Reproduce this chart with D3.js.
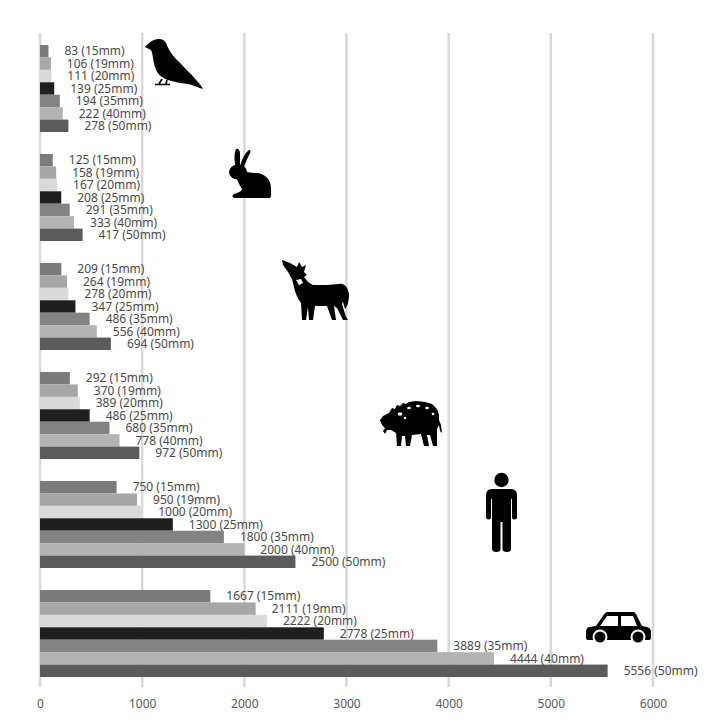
<!DOCTYPE html>
<html>
<head>
<meta charset="utf-8" />
<title></title>
<style>
html, body {
    padding: 0px;
    margin: 0px;
    width: 100%;
    height: 100%;
    background: #fff;
}
text {
    font-family: "Noto Sans", sans-serif;
}
</style>
</head>
<body>
<div id="chart"></div>
<script src="https://cdnjs.cloudflare.com/ajax/libs/d3/7.8.5/d3.min.js"></script>
<script>
// data
var groups = ["bird", "rabbit", "wolf", "boar", "person", "car"]
var lenses = ["15mm", "19mm", "20mm", "25mm", "35mm", "40mm", "50mm"]
var birdValues = [83, 106, 111, 139, 194, 222, 278]
var rabbitValues = [125, 158, 167, 208, 291, 333, 417]
var wolfValues = [209, 264, 278, 347, 486, 556, 694]
var boarValues = [292, 370, 389, 486, 680, 778, 972]
var personValues = [750, 950, 1000, 1300, 1800, 2000, 2500]
var carValues = [1667, 2111, 2222, 2778, 3889, 4444, 5556]
var xTicks = [0, 1000, 2000, 3000, 4000, 5000, 6000]

var lensColors = ["#7b7b7b", "#a7a7a7", "#dadada", "#1f1f1f", "#838383", "#b3b3b3", "#5b5b5b"]

!(function(){
    "use strict"

    var W = 722, H = 722
    var allValues = [birdValues, rabbitValues, wolfValues, boarValues, personValues, carValues]

    var svg = d3.select("#chart").append("svg")
        .attr("width", W)
        .attr("height", H)

    var x = d3.scaleLinear().domain([0, 6000]).range([40, 653])

    var yGroup = d3.scaleBand().domain(groups)
        .range([34, 688])
        .paddingInner(0.2018)
        .paddingOuter(0.1009)

    var yLens = d3.scaleBand().domain(lenses).range([0, yGroup.bandwidth()])

    //grid lines
    svg.append("g").selectAll("line")
        .data(xTicks)
        .enter().append("line")
        .attr("x1", function(d){ return x(d) })
        .attr("x2", function(d){ return x(d) })
        .attr("y1", 33)
        .attr("y2", 687)
        .attr("stroke", "#d9d9d9")
        .attr("stroke-width", 2.5)

    //axis labels
    var axis = svg.append("g")
        .attr("transform", "translate(0,696)")
        .call(d3.axisBottom(x).tickValues(xTicks).tickSize(0).tickFormat(d3.format("d")))
    axis.select(".domain").remove()
    axis.selectAll("text")
        .attr("fill", "#595959")
        .style("font-size", "12px")
        .style("font-family", "'Noto Sans', sans-serif")

    //bars
    var g = svg.selectAll(".grp")
        .data(groups)
        .enter().append("g")
        .attr("class", "grp")
        .attr("transform", function(d){ return "translate(0," + yGroup(d) + ")" })

    g.selectAll("rect")
        .data(function(d, i){ return allValues[i].map(function(v, j){ return {v: v, lens: lenses[j], c: lensColors[j]} }) })
        .enter().append("rect")
        .attr("x", x(0))
        .attr("y", function(d){ return yLens(d.lens) })
        .attr("width", function(d){ return x(d.v) - x(0) })
        .attr("height", yLens.bandwidth())
        .attr("fill", function(d){ return d.c })

    g.selectAll("text")
        .data(function(d, i){ return allValues[i].map(function(v, j){ return {v: v, lens: lenses[j]} }) })
        .enter().append("text")
        .attr("x", function(d){ return x(d.v) + 16 })
        .attr("y", function(d){ return yLens(d.lens) + yLens.bandwidth() / 2 })
        .attr("dy", "0.35em")
        .attr("fill", "#4a4a4a")
        .style("font-size", "12px")
        .text(function(d){ return d.v + " (" + d.lens + ")" })

    //icons  (placement: left edge in px, top offset from group band)
    var icons = {
        bird: {dx: 145, dy: -7, draw: function(s){
            s.append("path").attr("d",
                "M0,9 C3,6 6,3 9,2 C14,0 19,1 21,5 C23,10 26,16 32,22 C38,28 46,36 52,43 C55,46 57,49 58,51 C54,50 48,47 43,46 C36,45 29,44 23,42 C17,40 12,36 10,29 C8,23 8,16 6,12 C4,11 2,10 0,9 Z")
            s.append("path").attr("d", "M17,41 L14,46 M22,42 L21,46 M10,46.5 L25,46.5")
                .attr("stroke", "#000").attr("stroke-width", 1.6).attr("fill", "none")
        }},
        rabbit: {dx: 228, dy: -6, draw: function(s){
            s.append("path").attr("d", "M8,20 C6,13 6,5 8,1 C10,0 12,2 12,6 L12,18 Z")
            s.append("path").attr("d", "M12,18 C14,11 17,5 21,2 C23,2 23,4 21,7 C19,11 17,16 15,21 Z")
            s.append("ellipse").attr("cx", 10).attr("cy", 24).attr("rx", 9).attr("ry", 7.5)
            s.append("path").attr("d",
                "M8,28 C10,34 12,38 14,41 C13,44 9,45 6,46 C4,47 4,50 7,50 L41,50 C44,50 43,45 43,40 C43,32 37,25 28,25 C22,25 18,24 14,21 Z")
        }},
        wolf: {dx: 282, dy: -4, draw: function(s){
            s.append("path").attr("d",
                "M0,1 L8,4 L15,8 L17,3 L20,8 L24,6 L22,13 L25,16 L22,18 L26,23 L31,26 L45,26 L57,25 C62,24 66,28 67,35 C67,41 66,47 63,50 L61,43 L60,45 L64,58 L66,61 L61,61 L55,49 L52,47 L54,61 L50,61 L45,47 L33,47 L31,61 L27,61 L26,48 L24,61 L20,61 L19,44 C16,40 13,34 12,28 L10,20 L6,13 L1,6 Z")
            s.append("path").attr("d", "M14,21 L19,20 L21,24 L17,26 Z").attr("fill", "#fff")
        }},
        boar: {dx: 380, dy: 29, draw: function(s){
            s.append("path").attr("d",
                "M0,19 L3,15 L9,12 L12,7 L15,8 L17,4 L20,5 L23,2 L26,3 L29,1 L36,0 L45,1 L52,3 L57,8 L59,14 L59,19 L61,24 L62,32 L60,30 L59,24 L57,28 L57,45 L53,45 L50,34 L47,34 L49,45 L44,45 L41,33 L32,34 L30,45 L26,45 L25,35 L22,35 L21,45 L17,45 L16,32 L11,29 L7,29 L5,33 L3,30 L5,27 L2,24 Z")
            s.selectAll(".spot").data([[20, 13, 2.3, 1.7], [29, 7, 1.8, 1.3], [38, 5, 2, 1.3], [47, 7, 1.8, 1.3], [53, 13, 1.4, 1.2], [25, 17, 1.3, 1.2]])
                .enter().append("ellipse")
                .attr("cx", function(d){ return d[0] }).attr("cy", function(d){ return d[1] })
                .attr("rx", function(d){ return d[2] }).attr("ry", function(d){ return d[3] })
                .attr("fill", "#fff")
        }},
        person: {dx: 486, dy: -9, draw: function(s){
            s.append("circle").attr("cx", 15.5).attr("cy", 8).attr("r", 7.2)
            s.append("path").attr("d",
                "M6,17 H25 Q31,17 31,23 V45 Q31,47.5 28.5,47.5 Q26,47.5 26,45 V27 H25 V77 Q25,80 21,80 Q16.5,80 16.5,77 V50 H14.5 V77 Q14.5,80 10.5,80 Q6,80 6,77 V27 H5 V45 Q5,47.5 2.5,47.5 Q0,47.5 0,45 V23 Q0,17 6,17 Z")
        }},
        car: {dx: 586, dy: 22, draw: function(s){
            s.append("path").attr("d",
                "M3,15 Q0,16 0,20 V26 Q0,28 2,28 H63 Q65,28 65,26 V20 Q65,16 61,15 L56,14 L50,2 Q49,0 47,0 H22 Q20,0 19,1 L10,14 Z")
            s.append("path").attr("d", "M14,14 L21,4 L32,4 L32,14 Z M35,4 L47,4 L51,14 L35,14 Z").attr("fill", "#fff")
            s.selectAll(".wheel").data([14, 52]).enter().append("circle")
                .attr("cx", function(d){ return d }).attr("cy", 25).attr("r", 6.5)
                .attr("stroke", "#fff").attr("stroke-width", 2)
        }}
    }

    groups.forEach(function(name){
        var ic = icons[name]
        var s = svg.append("g")
            .attr("transform", "translate(" + ic.dx + "," + (yGroup(name) + ic.dy) + ")")
            .attr("fill", "#000")
        ic.draw(s)
    })

}());
</script>
</body>
</html>
